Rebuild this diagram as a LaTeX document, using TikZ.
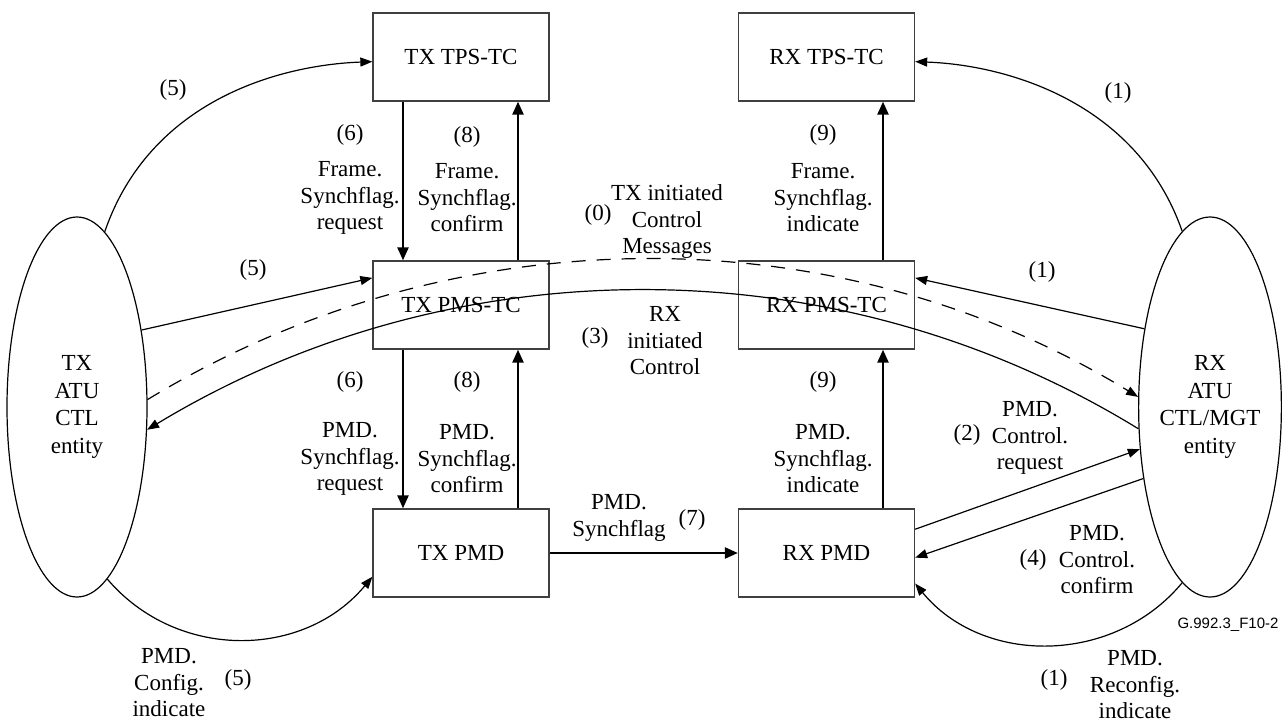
\documentclass[tikz,border=0pt]{standalone}
\usepackage{fontspec}
\setmainfont{Liberation Serif}
\newfontfamily\figsans{Liberation Sans}
\usetikzlibrary{arrows.meta,shapes.geometric,calc}
\newcommand\figfont{\fontsize{23}{26.5}\selectfont}
\newcommand\entfont{\fontsize{23}{27.5}\selectfont}
\definecolor{boxgray}{HTML}{404040}
\begin{document}
\begin{tikzpicture}[x=1pt,y=-1pt,
  box/.style={draw=boxgray, line width=1.3pt, minimum width=176pt, minimum height=88pt, inner sep=0pt, font=\figfont},
  ent/.style={draw, ellipse, line width=1.2pt, minimum width=140pt, minimum height=380pt, inner sep=0pt, align=center, font=\entfont},
  lbl/.style={align=center, inner sep=0pt, font=\figfont},
  conn/.style={line width=1.2pt, -{Triangle[length=12pt,width=9pt]}},
  dashconn/.style={conn, dash pattern=on 14pt off 11pt},
  flow/.style={line width=2.4pt, -{Triangle[length=13pt,width=11pt]}}]
\useasboundingbox (0,0) rectangle (1282,722);

% boxes
\node[box] (txtps) at (461,57) {TX TPS-TC};
\node[box] (rxtps) at (826.5,57) {RX TPS-TC};
\node[box] (txpms) at (461,305) {TX PMS-TC};
\node[box] (rxpms) at (826.5,305) {RX PMS-TC};
\node[box] (txpmd) at (461,553) {TX PMD};
\node[box] (rxpmd) at (826.5,553) {RX PMD};
\node[ent] (txe) at (77,407) {TX\\ATU\\CTL\\entity};
\node[ent] (rxe) at (1210,407) {RX\\ATU\\CTL/MGT\\entity};

% vertical flows
\draw[flow] ([xshift=-58pt]txtps.south) -- ([xshift=-58pt]txpms.north);
\draw[flow] ([xshift=57pt]txpms.north) -- ([xshift=57pt]txtps.south);
\draw[flow] ([xshift=-58pt]txpms.south) -- ([xshift=-58pt]txpmd.north);
\draw[flow] ([xshift=57pt]txpmd.north) -- ([xshift=57pt]txpms.south);
\draw[flow] ([xshift=56.5pt]rxpms.north) -- ([xshift=56.5pt]rxtps.south);
\draw[flow] ([xshift=56.5pt]rxpmd.north) -- ([xshift=56.5pt]rxpms.south);
\draw[flow] (txpmd.east) -- (rxpmd.west);

% thin connectors
\draw[conn] (txe.81) .. controls (150,100) and (280,65) .. (txtps.183);
\draw[conn] (rxe.99) .. controls (1137,102) and (1007,65) .. (rxtps.-3);
\draw[conn] (txe.50) -- (txpms.163);
\draw[conn] (rxe.130) -- (rxpms.17);
\draw[dashconn] (txe.6) .. controls (452,214) and (836,212) .. (rxe.172);
\draw[conn] (rxe.197) .. controls (836,243) and (452,245) .. (txe.-18);
\draw[conn] (rxpmd.15) -- (rxe.211);
\draw[conn] (rxe.227) -- (rxpmd.-3);
\draw[conn] (txe.-80) .. controls (177,661) and (304,659) .. (txpmd.195);
\draw[conn] (rxe.261) .. controls (1114,665) and (983,666) .. (rxpmd.-19.5);

% labels
\node[lbl] (l5a) at (173,90) {(5)};
\node[lbl] (l6a) at (350,135) {(6)};
\node[lbl] (l6at) at (350,198) {Frame.\\Synchflag.\\request};
\node[lbl] (l8a) at (467,137) {(8)};
\node[lbl] (l8at) at (467,198) {Frame.\\Synchflag.\\confirm};
\node[lbl] (l9a) at (823,135) {(9)};
\node[lbl] (l9at) at (823,198) {Frame.\\Synchflag.\\indicate};
\node[lbl] (l1a) at (1118,93) {(1)};
\node[lbl] (l0t) at (667,222) {TX initiated\\Control\\Messages};
\node[lbl] (l0) at (598,215) {(0)};
\node[lbl] (l5b) at (253,270) {(5)};
\node[lbl] (l1b) at (1042,272) {(1)};
\node[lbl] (l3t) at (665,341) {RX\\initiated\\Control};
\node[lbl] (l3) at (595,338) {(3)};
\node[lbl] (l6b) at (350,382) {(6)};
\node[lbl] (l6bt) at (350,459) {PMD.\\Synchflag.\\request};
\node[lbl] (l8b) at (467,382) {(8)};
\node[lbl] (l8bt) at (467,459) {PMD.\\Synchflag.\\confirm};
\node[lbl] (l9b) at (823,382) {(9)};
\node[lbl] (l9bt) at (823,459) {PMD.\\Synchflag.\\indicate};
\node[lbl] (l2) at (967,435) {(2)};
\node[lbl] (l2t) at (1030,438) {PMD.\\Control.\\request};
\node[lbl] (l7t) at (619,518) {PMD.\\Synchflag};
\node[lbl] (l7) at (692,520) {(7)};
\node[lbl] (l4) at (1033,560) {(4)};
\node[lbl] (l4t) at (1097,560) {PMD.\\Control.\\confirm};
\node[lbl] (l5ct) at (169,683) {PMD.\\Config.\\indicate};
\node[lbl] (l5c) at (238,680) {(5)};
\node[lbl] (l1c) at (1054,680) {(1)};
\node[lbl] (l1ct) at (1135,685) {PMD.\\Reconfig.\\indicate};
\node[inner sep=0pt, font=\figsans\fontsize{15}{17}\selectfont] (fig) at (1228,625) {G.992.3\_F10-2};
\end{tikzpicture}
\end{document}
